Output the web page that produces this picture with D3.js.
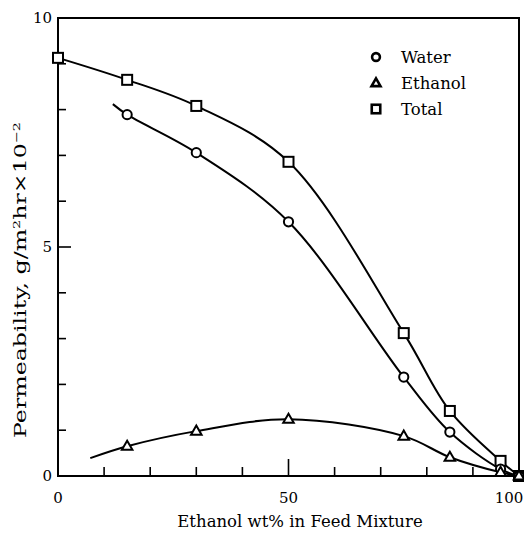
<!DOCTYPE html>
<html>
<head>
    <style>
        body { margin: 0; background: #fff; }
        text { font-family: "DejaVu Serif", serif; fill: #000; }
        .tick-label { font-size: 15px; }
        .axis-title { font-size: 16.5px; }
        .legend-label { font-size: 16.5px; }
    </style>
</head>
<body>
    <div id="chart"></div>

    <script src="https://d3js.org/d3.v7.min.js"></script>
    <script>
        // ethanol wt% in feed at the measured points
        var feed = [0, 15, 30, 50, 75, 85, 96, 100];
        var total = [9.13, 8.65, 8.08, 6.86, 3.12, 1.42, 0.33, 0];
        // water and ethanol have no point at 0
        var waterFeed = [15, 30, 50, 75, 85, 96, 100];
        var water = [7.89, 7.06, 5.55, 2.16, 0.96, 0.15, 0];
        var ethanolFeed = [15, 30, 50, 75, 85, 96, 100];
        var ethanol = [0.65, 0.98, 1.24, 0.87, 0.41, 0.08, 0];
        // where the drawn curves begin (no marker there)
        var waterStart = [11.9, 8.12];
        var ethanolStart = [7, 0.39];

        var xTicks = [0, 10, 20, 30, 40, 50, 60, 70, 80, 90, 100];
        var xLabels = [0, 50, 100];
        var yTicks = [0, 1, 2, 3, 4, 5, 6, 7, 8, 9, 10];
        var yLabels = [0, 5, 10];

        var width = 524, height = 533;

        var svg = d3.select("#chart").append("svg")
            .attr("width", width)
            .attr("height", height);

        var x = d3.scaleLinear().domain([0, 100]).range([58, 519]);
        var y = d3.scaleLinear().domain([0, 10]).range([476, 18]);

        // frame
        svg.append("rect")
            .attr("x", x(0)).attr("y", y(10))
            .attr("width", x(100) - x(0)).attr("height", y(0) - y(10))
            .attr("fill", "none").attr("stroke", "#000").attr("stroke-width", 2);

        // inward ticks
        svg.selectAll(".xtick").data(xTicks.slice(1, -1)).enter().append("line")
            .attr("x1", function (d) { return x(d); })
            .attr("x2", function (d) { return x(d); })
            .attr("y1", y(0))
            .attr("y2", function (d) { return y(0) - (d === 50 ? 17 : 9); })
            .attr("stroke", "#000").attr("stroke-width", 1.6);

        svg.selectAll(".ytick").data(yTicks.slice(1, -1)).enter().append("line")
            .attr("x1", x(0))
            .attr("x2", function (d) { return x(0) + (d === 5 ? 13 : 8); })
            .attr("y1", function (d) { return y(d); })
            .attr("y2", function (d) { return y(d); })
            .attr("stroke", "#000").attr("stroke-width", 1.6);

        svg.selectAll(".xlab").data(xLabels).enter().append("text")
            .attr("class", "tick-label")
            .attr("x", function (d) { return d === 100 ? 509 : x(d); })
            .attr("y", 503)
            .attr("text-anchor", "middle")
            .text(function (d) { return d; });

        svg.selectAll(".ylab").data(yLabels).enter().append("text")
            .attr("class", "tick-label")
            .attr("x", 52)
            .attr("y", function (d) { return y(d) + 5; })
            .attr("text-anchor", "end")
            .text(function (d) { return d; });

        svg.append("text")
            .attr("class", "axis-title")
            .attr("x", 300).attr("y", 527)
            .attr("text-anchor", "middle")
            .text("Ethanol wt% in Feed Mixture");

        var yTitle = svg.append("text")
            .attr("class", "axis-title")
            .attr("transform", "translate(26,280) rotate(-90)")
            .attr("text-anchor", "middle");
        yTitle.append("tspan").text("Permeability, g/m");
        yTitle.append("tspan").attr("dy", -6).style("font-size", "10px").text("2");
        yTitle.append("tspan").attr("dy", 6).text("hr\u00d710");
        yTitle.append("tspan").attr("dy", -6).style("font-size", "10px").text("\u22122");
        // the printed title is wider: stretch it over the same height
        yTitle.attr("textLength", 316).attr("lengthAdjust", "spacingAndGlyphs");

        // curves
        var line = d3.line()
            .x(function (d) { return x(d[0]); })
            .y(function (d) { return y(d[1]); })
            .curve(d3.curveCatmullRom.alpha(0.5));

        var totalPts = d3.zip(feed, total);
        var waterPts = d3.zip(waterFeed, water);
        var ethanolPts = d3.zip(ethanolFeed, ethanol);

        [totalPts, [waterStart].concat(waterPts), [ethanolStart].concat(ethanolPts)].forEach(function (pts) {
            svg.append("path")
                .attr("d", line(pts))
                .attr("fill", "none")
                .attr("stroke", "#000")
                .attr("stroke-width", 2);
        });

        // markers
        function marker(g, type, cx, cy, s) {
            s = s || 1;
            if (type === "circle") {
                g.append("circle").attr("cx", cx).attr("cy", cy).attr("r", 4.6 * s);
            } else if (type === "triangle") {
                g.append("path").attr("d", d3.symbol().type(d3.symbolTriangle).size(48 * s * s)())
                    .attr("transform", "translate(" + cx + "," + (cy + 0.5) + ")");
            } else {
                g.append("rect").attr("x", cx - 5 * s).attr("y", cy - 5 * s)
                    .attr("width", 10 * s).attr("height", 10 * s);
            }
        }

        var mg = svg.append("g").attr("fill", "#fff").attr("stroke", "#000").attr("stroke-width", 2);
        totalPts.forEach(function (p) { marker(mg, "square", x(p[0]), y(p[1])); });
        waterPts.forEach(function (p) { marker(mg, "circle", x(p[0]), y(p[1])); });
        ethanolPts.forEach(function (p) { marker(mg, "triangle", x(p[0]), y(p[1])); });

        // legend
        var legend = [["circle", "Water"], ["triangle", "Ethanol"], ["square", "Total"]];
        legend.forEach(function (l, i) {
            var ly = 57 + i * 26;
            var lg = svg.append("g").attr("fill", "#fff").attr("stroke", "#000").attr("stroke-width", 2.6);
            marker(lg, l[0], 376, ly, 0.85);
            svg.append("text")
                .attr("class", "legend-label")
                .attr("x", 401).attr("y", ly + 6)
                .text(l[1]);
        });
    </script>
</body>
</html>
